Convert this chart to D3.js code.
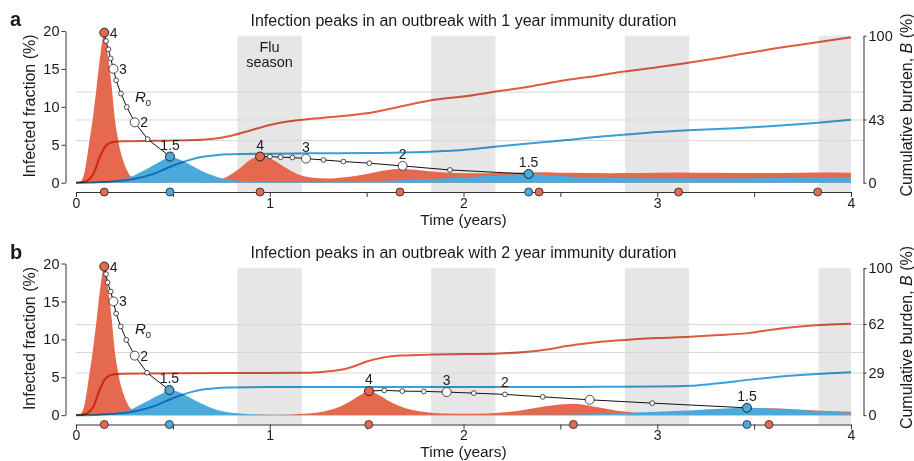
<!DOCTYPE html>
<html><head><meta charset="utf-8">
<script src="https://cdn.jsdelivr.net/npm/d3@7"></script>
<style>
body{margin:0;background:#fff;}
svg{background:#fff;}
svg text{font-family:"Liberation Sans",Arial,Helvetica,sans-serif;fill:#1a1a1a;}
</style></head><body>
<svg id="chart" width="914" height="461"></svg>
<script>
// ---------------- DATA ----------------
const panelLabels = ["a", "b"];
const panelTitles = [
  "Infection peaks in an outbreak with 1 year immunity duration",
  "Infection peaks in an outbreak with 2 year immunity duration"
];
const leftTicks = [0, 5, 10, 15, 20];
const rightTicksA = [0, 43, 100];
const rightTicksB = [0, 29, 62, 100];
const gridValues = [29, 43, 62];
const xTicks = [0, 0.5, 1, 1.5, 2, 2.5, 3, 3.5, 4];
const fluSeasons = [[0.833, 1.165], [1.833, 2.165], [2.833, 3.165], [3.833, 4.0]];
const r0Values = [4, 3.75, 3.5, 3.25, 3, 2.75, 2.5, 2.25, 2, 1.75, 1.5];

// Panel a: infected fraction (%) — red and blue series
const redInfA = [[0,0],[0.02,0.1],[0.035,0.6],[0.045,1.5],[0.055,3.0],[0.07,5.6],[0.086,8.3],[0.107,12.7],[0.127,17.1],[0.146,19.7],[0.163,17.1],[0.184,12.7],[0.201,8.3],[0.215,6.0],[0.227,4.4],[0.245,2.8],[0.262,1.7],[0.28,0.9],[0.3,0.5],[0.35,0.2],[0.45,0.08],[0.55,0.05],[0.65,0.1],[0.72,0.3],[0.78,0.8],[0.846,1.9],[0.898,3.0],[0.95,3.45],[1.018,3.0],[1.087,1.9],[1.156,1.0],[1.22,0.65],[1.3,0.55],[1.4,0.75],[1.5,1.15],[1.6,1.65],[1.672,1.85],[1.75,1.7],[1.85,1.45],[1.95,1.28],[2.1,1.25],[2.25,1.3],[2.39,1.38],[2.55,1.3],[2.75,1.26],[2.9,1.28],[3.11,1.36],[3.3,1.3],[3.5,1.27],[3.65,1.29],[3.828,1.34],[4,1.3]];
const blueInfA = [[0,0],[0.1,0.05],[0.15,0.1],[0.2,0.25],[0.25,0.5],[0.3,0.95],[0.35,1.6],[0.4,2.3],[0.44,2.85],[0.485,3.35],[0.52,3.2],[0.56,2.75],[0.6,2.2],[0.65,1.55],[0.7,1.0],[0.75,0.6],[0.82,0.3],[0.9,0.15],[1.0,0.1],[1.2,0.1],[1.4,0.15],[1.6,0.25],[1.8,0.45],[2.0,0.7],[2.15,0.9],[2.336,1.15],[2.45,0.95],[2.6,0.75],[2.8,0.62],[3.0,0.58],[3.3,0.58],[3.6,0.62],[3.8,0.68],[4,0.72]];
// Panel a: cumulative burden B (%)
const redCumA = [[0,0],[0.05,0.8],[0.07,2.5],[0.09,6],[0.105,11],[0.12,16.5],[0.135,21],[0.15,24.5],[0.17,26.8],[0.2,27.8],[0.25,28.2],[0.4,28.5],[0.6,29],[0.7,29.8],[0.8,32],[0.9,35.5],[1.0,39.3],[1.1,41.8],[1.2,43.3],[1.35,45],[1.5,47.2],[1.67,51.7],[1.84,56.3],[2.02,59],[2.16,61.9],[2.36,65.8],[2.53,69.9],[2.7,73],[2.81,75.3],[3.0,78.5],[3.16,81.6],[3.35,85.5],[3.56,90.3],[3.8,95],[4,99]];
const blueCumA = [[0,0],[0.1,0.2],[0.2,0.9],[0.3,2.5],[0.4,6],[0.48,10.5],[0.55,14],[0.64,17.3],[0.72,18.7],[0.8,19.3],[1.0,19.7],[1.2,20],[1.5,20.2],[1.7,20.5],[1.9,21.5],[2.0,22.3],[2.16,24.5],[2.35,26.8],[2.53,29],[2.7,31.3],[2.81,32.4],[3.0,34.5],[3.16,35.7],[3.4,37],[3.56,38.2],[3.8,40.5],[4,42.8]];

// Panel b: infected fraction (%)
const redInfB = [[0,0],[0.02,0.1],[0.035,0.6],[0.045,1.5],[0.055,3.0],[0.07,5.6],[0.086,8.3],[0.107,12.7],[0.127,17.1],[0.146,19.6],[0.163,17.1],[0.184,12.7],[0.201,8.3],[0.215,6.0],[0.227,4.4],[0.245,2.8],[0.262,1.7],[0.28,0.9],[0.3,0.5],[0.35,0.2],[0.45,0.08],[0.6,0.04],[0.8,0.03],[1.0,0.05],[1.1,0.1],[1.2,0.22],[1.28,0.5],[1.35,1.0],[1.42,1.9],[1.47,2.7],[1.511,3.2],[1.56,2.7],[1.62,1.8],[1.67,1.2],[1.71,0.85],[1.79,0.45],[1.9,0.22],[2.05,0.18],[2.2,0.35],[2.31,0.68],[2.43,1.2],[2.567,1.5],[2.67,1.15],[2.75,0.8],[2.84,0.45],[2.95,0.25],[3.05,0.2],[3.2,0.35],[3.35,0.6],[3.5,0.85],[3.577,0.92],[3.7,0.8],[3.85,0.6],[4,0.45]];
const blueInfB = [[0,0],[0.1,0.05],[0.15,0.1],[0.2,0.25],[0.25,0.5],[0.3,0.95],[0.35,1.6],[0.4,2.3],[0.44,2.8],[0.482,3.3],[0.52,3.15],[0.56,2.7],[0.6,2.15],[0.65,1.5],[0.7,0.95],[0.75,0.55],[0.82,0.28],[0.9,0.12],[1.0,0.07],[1.5,0.03],[2.0,0.02],[2.5,0.05],[2.7,0.15],[2.85,0.3],[3.0,0.45],[3.19,0.66],[3.35,0.88],[3.463,0.97],[3.6,0.85],[3.7,0.75],[3.85,0.5],[4,0.3]];
// Panel b: cumulative burden B (%)
const redCumB = [[0,0],[0.05,0.8],[0.07,2.5],[0.09,6],[0.105,11],[0.12,16.5],[0.135,21],[0.15,24.5],[0.17,26.8],[0.2,27.8],[0.25,28.2],[0.5,28.5],[0.8,28.7],[1.16,28.8],[1.25,29.3],[1.38,31.2],[1.45,34],[1.5,36.5],[1.586,39.3],[1.672,40.6],[1.844,41.3],[2.0,41.6],[2.19,42],[2.36,43.5],[2.45,45],[2.53,47],[2.62,48.6],[2.7,49.8],[2.81,51],[3.0,52.5],[3.17,53.4],[3.3,54.4],[3.48,56],[3.6,58.3],[3.74,60.3],[3.87,61.5],[4,62.2]];
const blueCumB = [[0,0],[0.1,0.2],[0.2,0.9],[0.3,2.5],[0.4,6],[0.48,10.5],[0.55,14],[0.64,17.2],[0.72,18.4],[0.8,18.8],[1.0,19.1],[1.5,19.2],[2.0,19.2],[2.5,19.2],[2.7,19.3],[3.0,19.5],[3.17,20],[3.3,21.5],[3.48,24.2],[3.6,25.8],[3.74,27.3],[3.87,28.4],[4,29.2]];

// R0 tracks: [time (years), infected fraction (%)]
const trackA1 = [[0.146,19.78],[0.155,18.68],[0.167,17.58],[0.179,16.38],[0.193,15.02],[0.207,13.51],[0.232,11.75],[0.262,9.98],[0.303,7.95],[0.37,5.74],[0.485,3.45]];
const trackA2 = [[0.950,3.45],[1.001,3.45],[1.056,3.36],[1.117,3.32],[1.187,3.18],[1.277,3.0],[1.380,2.79],[1.514,2.57],[1.686,2.21],[1.930,1.68],[2.336,1.15]];
const trackB1 = [[0.146,19.6],[0.155,18.6],[0.163,17.5],[0.179,16.3],[0.193,15.0],[0.207,13.4],[0.231,11.7],[0.260,9.93],[0.303,7.85],[0.367,5.6],[0.482,3.31]];
const trackB2 = [[1.512,3.18],[1.591,3.27],[1.684,3.18],[1.795,3.14],[1.913,3.05],[2.053,2.91],[2.214,2.74],[2.409,2.42],[2.651,2.03],[2.974,1.59],[3.463,0.97]];
// labels on tracks: [point index, text, placement]
const labelsA1 = [[0,"4","right"],[4,"3","right"],[8,"2","right"],[10,"1.5","above"]];
const labelsA2 = [[0,"4","above"],[4,"3","above"],[8,"2","above"],[10,"1.5","above"]];
const labelsB1 = [[0,"4","right"],[4,"3","right"],[8,"2","right"],[10,"1.5","above"]];
const labelsB2 = [[0,"4","above"],[4,"3","above"],[6,"2","above"],[10,"1.5","above"]];

// Peak times marked on the time axis
const redPeaksA = [0.146, 0.95, 1.672, 2.39, 3.11, 3.828];
const bluePeaksA = [0.485, 2.336];
const redPeaksB = [0.146, 1.511, 2.567, 3.577];
const bluePeaksB = [0.482, 3.463];

// ---------------- STYLE ----------------
const RED = "#E5694E", BLUE = "#4AAADC";
const RED_LINE = "#E25A40", BLUE_LINE = "#3A9FD8";

const panels = [
  {label: panelLabels[0], title: panelTitles[0], oy: 0, redInf: redInfA, blueInf: blueInfA, redCum: redCumA, blueCum: blueCumA, rightTicks: rightTicksA, tracks: [[trackA1, labelsA1], [trackA2, labelsA2]], redPeaks: redPeaksA, bluePeaks: bluePeaksA, flu: true},
  {label: panelLabels[1], title: panelTitles[1], oy: 232.5, redInf: redInfB, blueInf: blueInfB, redCum: redCumB, blueCum: blueCumB, rightTicks: rightTicksB, tracks: [[trackB1, labelsB1], [trackB2, labelsB2]], redPeaks: redPeaksB, bluePeaks: bluePeaksB, flu: false}
];

const svg = d3.select("#chart");
const x = d3.scaleLinear().domain([0, 4]).range([76, 851]);

panels.forEach(p => {
  const oy = p.oy;
  const yL = d3.scaleLinear().domain([0, 20]).range([oy + 182.7, oy + 31]);
  const yR = d3.scaleLinear().domain([0, 100]).range([oy + 182.7, oy + 35.7]);
  const axisY = oy + 192;
  const g = svg.append("g").style("isolation", "isolate");

  // flu season bands
  g.selectAll("rect.band").data(fluSeasons).join("rect")
    .attr("x", d => x(d[0])).attr("width", d => x(Math.min(d[1], 4)) - x(d[0]))
    .attr("y", yR(100)).attr("height", axisY - yR(100))
    .attr("fill", "#E6E6E6");

  // gridlines
  g.selectAll("line.grid").data(gridValues).join("line")
    .attr("x1", x(0)).attr("x2", 863.5)
    .attr("y1", d => yR(d) + 0.5).attr("y2", d => yR(d) + 0.5)
    .attr("stroke", "#D8D8D8").attr("stroke-width", 1);

  // infected areas
  const area = d3.area().x(d => x(d[0])).y0(yL(0)).y1(d => yL(d[1])).curve(d3.curveMonotoneX);
  g.append("path").datum(p.redInf).attr("d", area).attr("fill", RED);
  g.append("path").datum(p.blueInf).attr("d", area).attr("fill", BLUE);

  // cumulative burden lines
  const line = d3.line().x(d => x(d[0])).y(d => yR(d[1])).curve(d3.curveMonotoneX);
  g.append("path").datum(p.redCum).attr("d", line).attr("fill", "none")
    .attr("stroke", RED_LINE).attr("stroke-width", 2).style("mix-blend-mode", "multiply");
  g.append("path").datum(p.blueCum).attr("d", line).attr("fill", "none")
    .attr("stroke", BLUE_LINE).attr("stroke-width", 2).style("mix-blend-mode", "multiply");

  // axes
  const ax = g.append("g").attr("transform", `translate(65.5,0)`)
    .call(d3.axisLeft(yL).tickValues(leftTicks).tickSize(4).tickPadding(2).tickSizeOuter(0));
  const axR = g.append("g").attr("transform", `translate(863.5,0)`)
    .call(d3.axisRight(yR).tickValues(p.rightTicks).tickSize(3).tickPadding(2).tickSizeOuter(0));
  const axB = g.append("g").attr("transform", `translate(0,${axisY})`)
    .call(d3.axisBottom(x).tickValues(xTicks).tickFormat(d => Number.isInteger(d) ? d : "").tickSize(5).tickPadding(1).tickSizeOuter(0));
  [ax, axR, axB].forEach(a => {
    a.selectAll("text").style("font-size", "14.5px").attr("fill", "#1a1a1a");
    a.selectAll("path,line").attr("stroke", "#333");
  });
  axB.selectAll("text").style("font-size", "14px");

  // R0 tracks
  p.tracks.forEach(([tr, labs]) => {
    g.append("path").datum(tr).attr("d", d3.line().x(d => x(d[0])).y(d => yL(d[1])))
      .attr("fill", "none").attr("stroke", "#111").attr("stroke-width", 1);
    g.selectAll(null).data(tr).join("circle")
      .attr("cx", d => x(d[0])).attr("cy", d => yL(d[1]))
      .attr("r", (d, i) => (i === 0 || i === tr.length - 1) ? 4.5 : (r0Values[i] === 3 || r0Values[i] === 2 ? 4.5 : 2.4))
      .attr("fill", (d, i) => i === 0 ? RED : (i === tr.length - 1 ? BLUE : "#fff"))
      .attr("stroke", "#222").attr("stroke-width", (d, i) => (i === 0 || i === tr.length - 1) ? 1 : 0.8);
    labs.forEach(([i, txt, pos]) => {
      const px = x(tr[i][0]), py = yL(tr[i][1]);
      const t = g.append("text").text(txt).style("font-size", "14px");
      if (pos === "right") t.attr("x", px + 5.5).attr("y", py + 5);
      else t.attr("x", px).attr("y", py - 7).attr("text-anchor", "middle");
    });
  });

  // R0 label
  const r0t = g.append("text").attr("x", 135).attr("y", oy + 101.5).style("font-size", "15px");
  r0t.append("tspan").text("R").style("font-style", "italic");
  r0t.append("tspan").text("0").attr("dy", 4).style("font-size", "9.5px");

  // peak markers on time axis
  const peaks = p.redPeaks.map(t => [t, RED]).concat(p.bluePeaks.map(t => [t, BLUE])).sort((a, b) => a[0] - b[0]);
  g.selectAll(null).data(peaks).join("circle")
    .attr("cx", d => x(d[0])).attr("cy", axisY).attr("r", 4)
    .attr("fill", d => d[1]).attr("stroke", "#333").attr("stroke-width", 0.9);

  // texts
  g.append("text").attr("x", 10).attr("y", oy + 26).text(p.label)
    .style("font-size", "20px").style("font-weight", "bold");
  g.append("text").attr("x", 463.5).attr("y", oy + 25.5).attr("text-anchor", "middle")
    .text(p.title).style("font-size", "16px");
  g.append("text").attr("x", 463.5).attr("y", oy + 224.5).attr("text-anchor", "middle")
    .text("Time (years)").style("font-size", "15.5px");
  g.append("text").attr("transform", `translate(35,${oy + 106}) rotate(-90)`).attr("text-anchor", "middle")
    .text("Infected fraction (%)").style("font-size", "16px");
  const rt = g.append("text").attr("transform", `translate(912,${oy + 105}) rotate(-90)`).attr("text-anchor", "middle")
    .style("font-size", "16px");
  rt.append("tspan").text("Cumulative burden, ");
  rt.append("tspan").text("B").style("font-style", "italic");
  rt.append("tspan").text(" (%)");

  if (p.flu) {
    const fx = x((fluSeasons[0][0] + fluSeasons[0][1]) / 2);
    const ft = g.append("text").attr("text-anchor", "middle").style("font-size", "14.5px");
    ft.append("tspan").attr("x", fx).attr("y", oy + 51.5).text("Flu");
    ft.append("tspan").attr("x", fx).attr("y", oy + 66.5).text("season");
  }
});
</script>
</body></html>
